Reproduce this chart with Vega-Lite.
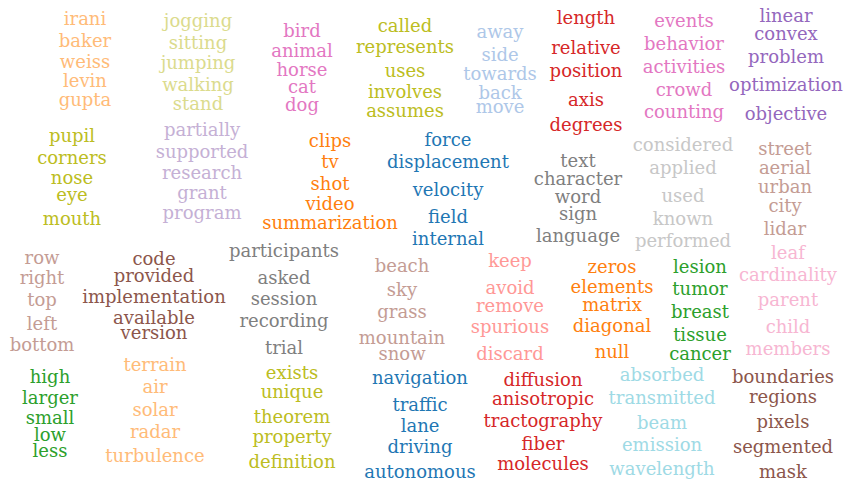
{"$schema":"https://vega.github.io/schema/vega-lite/v6.json","width":856,"height":489,"autosize":{"type":"fit","contains":"padding"},"padding":0,"background":"white","config":{"view":{"stroke":null}},
"data":{"values":[
{"w":"irani","x":85,"y":20,"k":"c01"},{"w":"baker","x":85,"y":42,"k":"c01"},{"w":"weiss","x":85,"y":63,"k":"c01"},{"w":"levin","x":85,"y":82,"k":"c01"},{"w":"gupta","x":85,"y":101,"k":"c01"},
{"w":"jogging","x":198,"y":22,"k":"c02"},{"w":"sitting","x":198,"y":44,"k":"c02"},{"w":"jumping","x":198,"y":64,"k":"c02"},{"w":"walking","x":198,"y":86,"k":"c02"},{"w":"stand","x":198,"y":105,"k":"c02"},
{"w":"bird","x":302,"y":32,"k":"c03"},{"w":"animal","x":302,"y":52,"k":"c03"},{"w":"horse","x":302,"y":71,"k":"c03"},{"w":"cat","x":302,"y":88,"k":"c03"},{"w":"dog","x":302,"y":106,"k":"c03"},
{"w":"called","x":405,"y":27,"k":"c04"},{"w":"represents","x":405,"y":48,"k":"c04"},{"w":"uses","x":405,"y":72,"k":"c04"},{"w":"involves","x":405,"y":93,"k":"c04"},{"w":"assumes","x":405,"y":112,"k":"c04"},
{"w":"away","x":500,"y":33,"k":"c05"},{"w":"side","x":500,"y":56,"k":"c05"},{"w":"towards","x":500,"y":75,"k":"c05"},{"w":"back","x":500,"y":94,"k":"c05"},{"w":"move","x":500,"y":108,"k":"c05"},
{"w":"length","x":586,"y":19,"k":"c06"},{"w":"relative","x":586,"y":49,"k":"c06"},{"w":"position","x":586,"y":72,"k":"c06"},{"w":"axis","x":586,"y":101,"k":"c06"},{"w":"degrees","x":586,"y":126,"k":"c06"},
{"w":"events","x":684,"y":22,"k":"c03"},{"w":"behavior","x":684,"y":45,"k":"c03"},{"w":"activities","x":684,"y":68,"k":"c03"},{"w":"crowd","x":684,"y":91,"k":"c03"},{"w":"counting","x":684,"y":113,"k":"c03"},
{"w":"linear","x":786,"y":17,"k":"c07"},{"w":"convex","x":786,"y":35,"k":"c07"},{"w":"problem","x":786,"y":58,"k":"c07"},{"w":"optimization","x":786,"y":86,"k":"c07"},{"w":"objective","x":786,"y":115,"k":"c07"},
{"w":"pupil","x":72,"y":137,"k":"c04"},{"w":"corners","x":72,"y":159,"k":"c04"},{"w":"nose","x":72,"y":179,"k":"c04"},{"w":"eye","x":72,"y":196,"k":"c04"},{"w":"mouth","x":72,"y":220,"k":"c04"},
{"w":"partially","x":202,"y":131,"k":"c08"},{"w":"supported","x":202,"y":153,"k":"c08"},{"w":"research","x":202,"y":174,"k":"c08"},{"w":"grant","x":202,"y":194,"k":"c08"},{"w":"program","x":202,"y":214,"k":"c08"},
{"w":"clips","x":330,"y":142,"k":"c09"},{"w":"tv","x":330,"y":163,"k":"c09"},{"w":"shot","x":330,"y":185,"k":"c09"},{"w":"video","x":330,"y":205,"k":"c09"},{"w":"summarization","x":330,"y":224,"k":"c09"},
{"w":"force","x":448,"y":141,"k":"c10"},{"w":"displacement","x":448,"y":163,"k":"c10"},{"w":"velocity","x":448,"y":191,"k":"c10"},{"w":"field","x":448,"y":218,"k":"c10"},{"w":"internal","x":448,"y":240,"k":"c10"},
{"w":"text","x":578,"y":162,"k":"c11"},{"w":"character","x":578,"y":180,"k":"c11"},{"w":"word","x":578,"y":198,"k":"c11"},{"w":"sign","x":578,"y":215,"k":"c11"},{"w":"language","x":578,"y":237,"k":"c11"},
{"w":"considered","x":683,"y":146,"k":"c12"},{"w":"applied","x":683,"y":169,"k":"c12"},{"w":"used","x":683,"y":197,"k":"c12"},{"w":"known","x":683,"y":220,"k":"c12"},{"w":"performed","x":683,"y":242,"k":"c12"},
{"w":"street","x":785,"y":150,"k":"c13"},{"w":"aerial","x":785,"y":169,"k":"c13"},{"w":"urban","x":785,"y":188,"k":"c13"},{"w":"city","x":785,"y":207,"k":"c13"},{"w":"lidar","x":785,"y":230,"k":"c13"},
{"w":"leaf","x":788,"y":254,"k":"c14"},{"w":"cardinality","x":788,"y":276,"k":"c14"},{"w":"parent","x":788,"y":301,"k":"c14"},{"w":"child","x":788,"y":328,"k":"c14"},{"w":"members","x":788,"y":350,"k":"c14"},
{"w":"row","x":42,"y":259,"k":"c13"},{"w":"right","x":42,"y":279,"k":"c13"},{"w":"top","x":42,"y":301,"k":"c13"},{"w":"left","x":42,"y":325,"k":"c13"},{"w":"bottom","x":42,"y":346,"k":"c13"},
{"w":"code","x":154,"y":260,"k":"c15"},{"w":"provided","x":154,"y":277,"k":"c15"},{"w":"implementation","x":154,"y":298,"k":"c15"},{"w":"available","x":154,"y":319,"k":"c15"},{"w":"version","x":154,"y":334,"k":"c15"},
{"w":"participants","x":284,"y":252,"k":"c11"},{"w":"asked","x":284,"y":279,"k":"c11"},{"w":"session","x":284,"y":300,"k":"c11"},{"w":"recording","x":284,"y":322,"k":"c11"},{"w":"trial","x":284,"y":349,"k":"c11"},
{"w":"beach","x":402,"y":267,"k":"c13"},{"w":"sky","x":402,"y":291,"k":"c13"},{"w":"grass","x":402,"y":313,"k":"c13"},{"w":"mountain","x":402,"y":339,"k":"c13"},{"w":"snow","x":402,"y":355,"k":"c13"},
{"w":"keep","x":510,"y":262,"k":"c16"},{"w":"avoid","x":510,"y":289,"k":"c16"},{"w":"remove","x":510,"y":307,"k":"c16"},{"w":"spurious","x":510,"y":328,"k":"c16"},{"w":"discard","x":510,"y":355,"k":"c16"},
{"w":"zeros","x":612,"y":268,"k":"c09"},{"w":"elements","x":612,"y":288,"k":"c09"},{"w":"matrix","x":612,"y":306,"k":"c09"},{"w":"diagonal","x":612,"y":327,"k":"c09"},{"w":"null","x":612,"y":353,"k":"c09"},
{"w":"lesion","x":700,"y":268,"k":"c17"},{"w":"tumor","x":700,"y":290,"k":"c17"},{"w":"breast","x":700,"y":313,"k":"c17"},{"w":"tissue","x":700,"y":336,"k":"c17"},{"w":"cancer","x":700,"y":355,"k":"c17"},
{"w":"high","x":50,"y":378,"k":"c17"},{"w":"larger","x":50,"y":399,"k":"c17"},{"w":"small","x":50,"y":419,"k":"c17"},{"w":"low","x":50,"y":436,"k":"c17"},{"w":"less","x":50,"y":452,"k":"c17"},
{"w":"terrain","x":155,"y":366,"k":"c01"},{"w":"air","x":155,"y":388,"k":"c01"},{"w":"solar","x":155,"y":411,"k":"c01"},{"w":"radar","x":155,"y":433,"k":"c01"},{"w":"turbulence","x":155,"y":457,"k":"c01"},
{"w":"exists","x":292,"y":374,"k":"c04"},{"w":"unique","x":292,"y":393,"k":"c04"},{"w":"theorem","x":292,"y":418,"k":"c04"},{"w":"property","x":292,"y":438,"k":"c04"},{"w":"definition","x":292,"y":463,"k":"c04"},
{"w":"navigation","x":420,"y":379,"k":"c10"},{"w":"traffic","x":420,"y":406,"k":"c10"},{"w":"lane","x":420,"y":427,"k":"c10"},{"w":"driving","x":420,"y":448,"k":"c10"},{"w":"autonomous","x":420,"y":473,"k":"c10"},
{"w":"diffusion","x":543,"y":381,"k":"c06"},{"w":"anisotropic","x":543,"y":400,"k":"c06"},{"w":"tractography","x":543,"y":422,"k":"c06"},{"w":"fiber","x":543,"y":445,"k":"c06"},{"w":"molecules","x":543,"y":465,"k":"c06"},
{"w":"absorbed","x":662,"y":376,"k":"c18"},{"w":"transmitted","x":662,"y":399,"k":"c18"},{"w":"beam","x":662,"y":424,"k":"c18"},{"w":"emission","x":662,"y":446,"k":"c18"},{"w":"wavelength","x":662,"y":470,"k":"c18"},
{"w":"boundaries","x":783,"y":378,"k":"c15"},{"w":"regions","x":783,"y":398,"k":"c15"},{"w":"pixels","x":783,"y":423,"k":"c15"},{"w":"segmented","x":783,"y":448,"k":"c15"},{"w":"mask","x":783,"y":473,"k":"c15"}
]},
"mark":{"type":"text","font":"DejaVu Serif","fontSize":18,"baseline":"middle","align":"center"},
"encoding":{
"x":{"field":"x","type":"quantitative","scale":{"domain":[0,856]},"axis":null},
"y":{"field":"y","type":"quantitative","scale":{"domain":[489,0]},"axis":null},
"text":{"field":"w"},
"color":{"field":"k","type":"nominal","legend":null,"scale":{"domain":["c01","c02","c03","c04","c05","c06","c07","c08","c09","c10","c11","c12","c13","c14","c15","c16","c17","c18"],"range":["#ffbb78","#dbdb8d","#e377c2","#bcbd22","#aec7e8","#d62728","#9467bd","#c5b0d5","#ff7f0e","#1f77b4","#7f7f7f","#c7c7c7","#c49c94","#f7b6d2","#8c564b","#ff9896","#2ca02c","#9edae5"]}}
}}
